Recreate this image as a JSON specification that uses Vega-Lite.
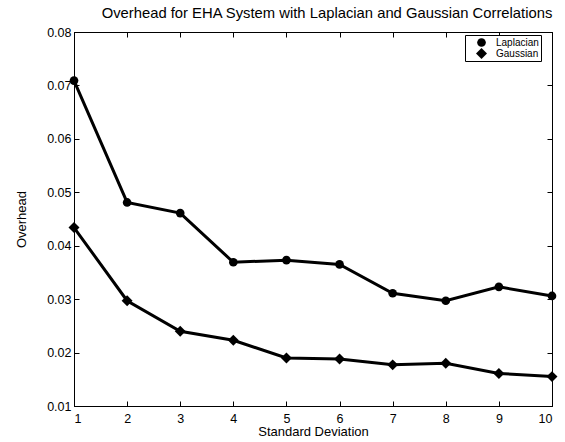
{
  "$schema": "https://vega.github.io/schema/vega-lite/v6.json",
  "width": 478,
  "height": 374,
  "autosize": {"type": "none"},
  "padding": {"left": 74, "top": 32, "right": 13, "bottom": 36},
  "background": "white",
  "config": {
    "font": "Liberation Sans",
    "view": {"stroke": "black", "strokeWidth": 1},
    "axis": {"domainColor": "black", "tickColor": "black", "labelColor": "black", "titleColor": "black", "labelFontSize": 12.5, "titleFontSize": 13, "titleFontWeight": "normal", "grid": false, "tickSize": -5}
  },
  "title": {"text": "Overhead for EHA System with Laplacian and Gaussian Correlations", "fontSize": 14.8, "fontWeight": "normal", "color": "black", "offset": 5, "anchor": "middle", "dx": 14},
  "data": {"values": [
    {"sd": 1, "overhead": 0.0709, "series": "Laplacian"},
    {"sd": 2, "overhead": 0.0481, "series": "Laplacian"},
    {"sd": 3, "overhead": 0.0461, "series": "Laplacian"},
    {"sd": 4, "overhead": 0.0369, "series": "Laplacian"},
    {"sd": 5, "overhead": 0.0373, "series": "Laplacian"},
    {"sd": 6, "overhead": 0.0365, "series": "Laplacian"},
    {"sd": 7, "overhead": 0.0311, "series": "Laplacian"},
    {"sd": 8, "overhead": 0.0297, "series": "Laplacian"},
    {"sd": 9, "overhead": 0.0323, "series": "Laplacian"},
    {"sd": 10, "overhead": 0.0306, "series": "Laplacian"},
    {"sd": 1, "overhead": 0.0434, "series": "Gaussian"},
    {"sd": 2, "overhead": 0.0297, "series": "Gaussian"},
    {"sd": 3, "overhead": 0.0240, "series": "Gaussian"},
    {"sd": 4, "overhead": 0.0223, "series": "Gaussian"},
    {"sd": 5, "overhead": 0.0190, "series": "Gaussian"},
    {"sd": 6, "overhead": 0.0188, "series": "Gaussian"},
    {"sd": 7, "overhead": 0.0177, "series": "Gaussian"},
    {"sd": 8, "overhead": 0.0180, "series": "Gaussian"},
    {"sd": 9, "overhead": 0.0161, "series": "Gaussian"},
    {"sd": 10, "overhead": 0.0155, "series": "Gaussian"}
  ]},
  "layer": [
    {
      "mark": {"type": "line", "color": "black", "strokeWidth": 3},
      "encoding": {
        "x": {"field": "sd", "type": "quantitative", "scale": {"domain": [1, 10], "nice": false}, "axis": {"title": "Standard Deviation", "values": [1,2,3,4,5,6,7,8,9,10], "labelPadding": 11, "titlePadding": 1}},
        "y": {"field": "overhead", "type": "quantitative", "scale": {"domain": [0.01, 0.08], "nice": false, "zero": false}, "axis": {"title": "Overhead", "values": [0.01,0.02,0.03,0.04,0.05,0.06,0.07,0.08], "format": ".2f", "labelPadding": 8, "titlePadding": 18}},
        "detail": {"field": "series"}
      }
    },
    {
      "mark": {"type": "point", "filled": true, "color": "black", "opacity": 1},
      "encoding": {
        "x": {"field": "sd", "type": "quantitative", "axis": {"orient": "top", "labels": false, "title": null, "values": [1,2,3,4,5,6,7,8,9,10]}},
        "y": {"field": "overhead", "type": "quantitative", "axis": {"orient": "right", "labels": false, "title": null, "values": [0.01,0.02,0.03,0.04,0.05,0.06,0.07,0.08]}},
        "size": {"field": "series", "type": "nominal", "scale": {"domain": ["Laplacian", "Gaussian"], "range": [75, 120]}, "legend": {"title": null, "orient": "none", "legendX": 391, "legendY": 3}},
        "shape": {"field": "series", "type": "nominal", "scale": {"domain": ["Laplacian", "Gaussian"], "range": ["circle", "diamond"]}, "legend": {"title": null, "orient": "none", "legendX": 391, "legendY": 3, "strokeColor": "black", "fillColor": "white", "padding": 2, "labelFontSize": 10, "labelColor": "black", "symbolFillColor": "black", "symbolStrokeColor": "black", "rowPadding": 0, "clipHeight": 11, "symbolOffset": 8, "labelOffset": 8}}
      }
    }
  ],
  "resolve": {"axis": {"x": "independent", "y": "independent"}}
}
